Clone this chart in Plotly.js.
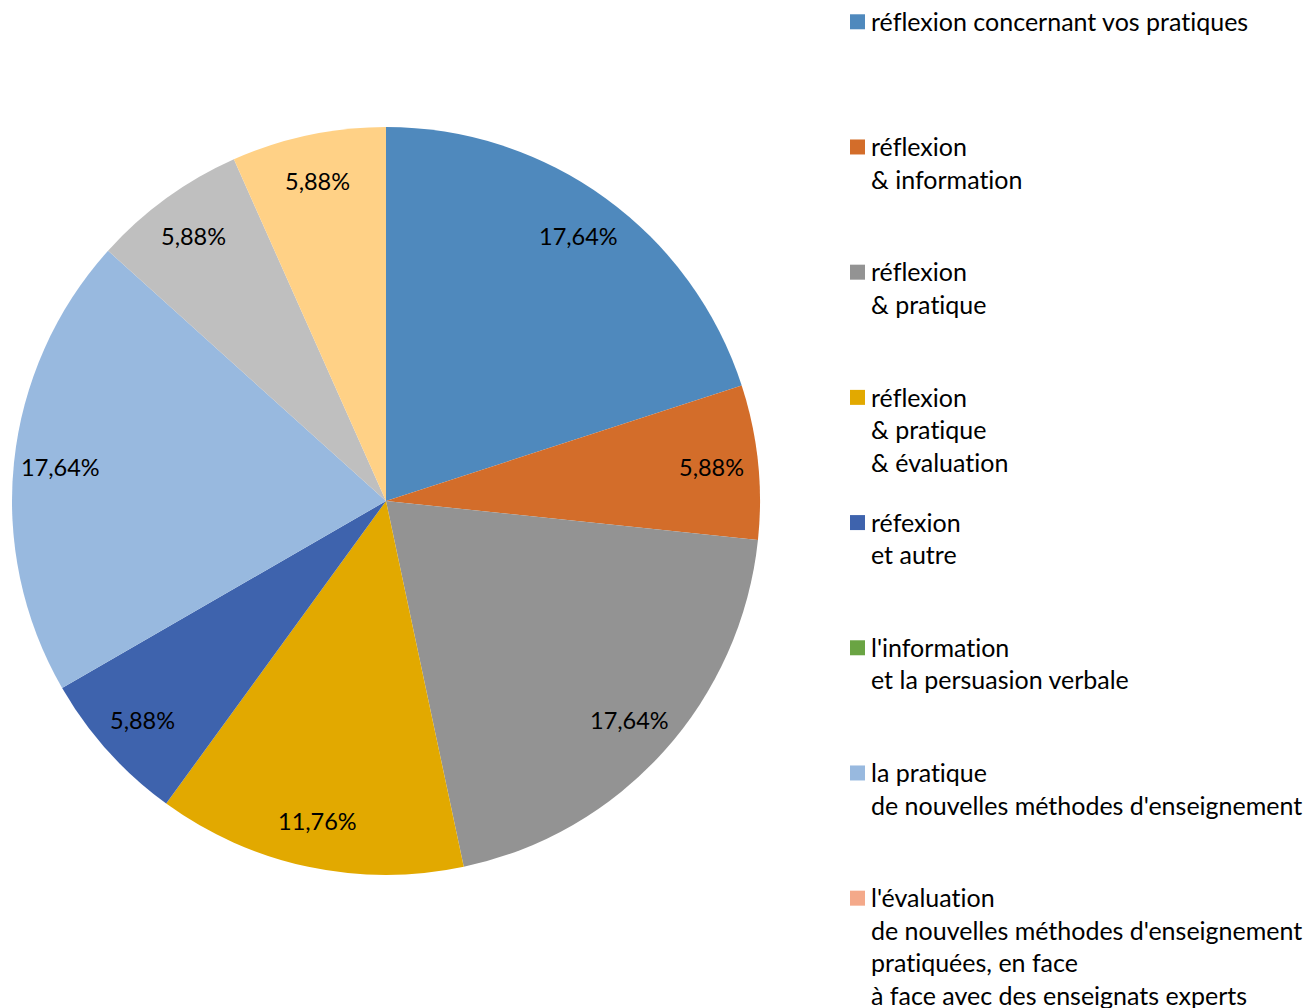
<!DOCTYPE html>
<html>
<head>
<meta charset="utf-8">
<script src="https://cdn.plot.ly/plotly-3.0.1.min.js"></script>
<style>
html,body{margin:0;padding:0;background:#fff;}
#chart{width:1311px;height:1008px;}
svg text{font-variant-ligatures:none;font-feature-settings:"liga" 0,"clig" 0;}
.legendtext{font-size:25px !important;}
.legendpie{transform:translate(26.5px,0px) scale(1.25);}
</style>
</head>
<body>
<div id="chart"></div>
<script>
const categories = [
  "réflexion concernant vos pratiques",
  "réflexion<br>& information",
  "réflexion<br>& pratique",
  "réflexion<br>& pratique<br>& évaluation",
  "réfexion<br>et autre",
  "l'information<br>et la persuasion verbale",
  "la pratique<br>de nouvelles méthodes d'enseignement",
  "l'évaluation<br>de nouvelles méthodes d'enseignement<br>pratiquées, en face<br>à face avec des enseignats experts",
  "autre 1",
  "autre 2"
];
const counts = [3, 1, 3, 2, 1, 0, 3, 0, 1, 1];
const pctLabels = ["17,64%", "5,88%", "17,64%", "11,76%", "5,88%", "", "17,64%", "", "5,88%", "5,88%"];
const colors = ["#4f89bd", "#d36d2a", "#939393", "#e2a900", "#3e63ad", "#6aa443", "#98b9df", "#f4a98a", "#bfbfbf", "#ffd186"];

// pie geometry (paper domain)
const dom = {x: [12/1311, 760/1311], y: [133/1008, 881/1008]};
const W = 1311, H = 1008;
const labelRadiusFrac = 0.875;

// pad each legend entry to 4 lines so entries are evenly spaced
const legendLabels = categories.map(c => {
  const n = c.split("<br>").length;
  let s = c;
  for (let i = n; i < 4; i++) s += "<br>&nbsp;";
  return s;
});

const trace = {
  type: "pie",
  labels: legendLabels,
  values: counts,
  text: pctLabels,
  textinfo: "none",
  marker: {colors: colors, line: {width: 0}},
  sort: false,
  direction: "clockwise",
  rotation: 0,
  hoverinfo: "label+text",
  domain: dom
};

// data labels placed along each slice's mid-angle (Excel "best fit" style)
const total = counts.reduce((a, b) => a + b, 0);
const cx = (dom.x[0] + dom.x[1]) / 2 * W;
const cy = (dom.y[0] + dom.y[1]) / 2 * H;
const R = Math.min((dom.x[1] - dom.x[0]) * W, (dom.y[1] - dom.y[0]) * H) / 2;
const annotations = [];
let cum = 0;
counts.forEach((v, i) => {
  const mid = (cum + v / 2) / total * 2 * Math.PI;
  cum += v;
  if (!v || !pctLabels[i]) return;
  const r = R * labelRadiusFrac;
  annotations.push({
    x: (cx + r * Math.sin(mid)) / W,
    y: (cy + r * Math.cos(mid)) / H,
    xref: "paper", yref: "paper",
    text: pctLabels[i],
    showarrow: false,
    xanchor: "center", yanchor: "middle",
    font: {family: "Lato, sans-serif", size: 23.5, color: "#000"}
  });
});

const layout = {
  width: W,
  height: H,
  margin: {l: 0, r: 0, t: 0, b: 0, autoexpand: false},
  paper_bgcolor: "#fff",
  showlegend: true,
  legend: {
    x: 831/1311, xanchor: "left",
    y: 1.0, yanchor: "top",
    valign: "top",
    maxheight: 3000,
    font: {family: "Lato, sans-serif", size: 23.5, color: "#000"},
    bgcolor: "rgba(0,0,0,0)"
  },
  annotations: annotations,
  font: {family: "Lato, sans-serif"}
};

Plotly.newPlot("chart", [trace], layout, {displayModeBar: false, staticPlot: true});
</script>
</body>
</html>
